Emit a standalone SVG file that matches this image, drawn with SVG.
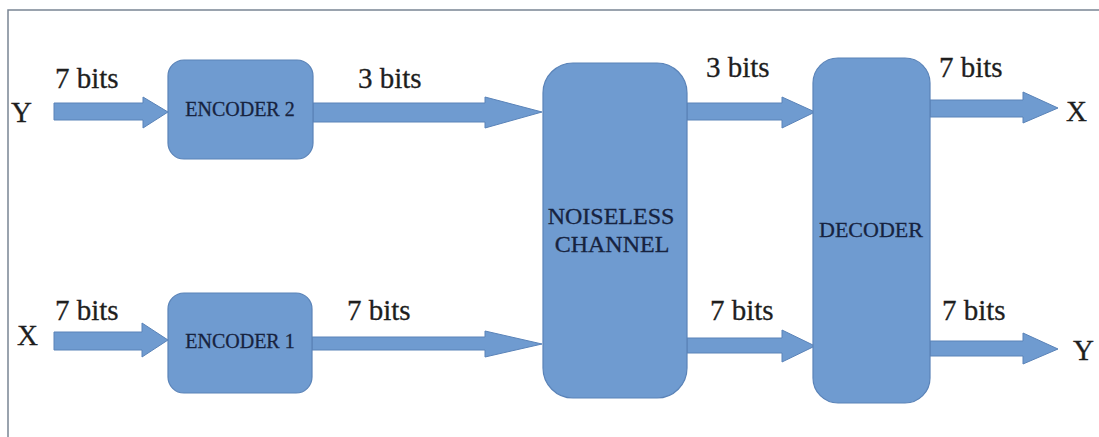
<svg xmlns="http://www.w3.org/2000/svg" width="1099" height="437" viewBox="0 0 1099 437">
  <style>
    .box { fill: #6f9bd0; stroke: #5a83b8; stroke-width: 1.2; }
    .arrow { fill: #6f9bd0; stroke: #5a83b8; stroke-width: 1; stroke-linejoin: miter; }
    .lbl { font-family: "Liberation Serif", "Times New Roman", serif; font-size: 29px; fill: #1e1e1e; stroke: #1e1e1e; stroke-width: 0.3; }
    .node-txt { font-family: "Liberation Serif", "Times New Roman", serif; fill: #17233f; stroke: #17233f; stroke-width: 0.3; text-anchor: middle; }
  </style>

  <rect x="0" y="0" width="1099" height="437" fill="#ffffff"/>
  <!-- frame -->
  <path d="M8,437 V10 H1099" fill="none" stroke="#7a8594" stroke-width="1.5"/>

  <!-- connectors -->
  <g id="connectors">
    <polygon class="arrow" points="54,103 143,103 143,97 168,112 143,128 143,120 54,120"/>
    <polygon class="arrow" points="54,332 142,332 142,323 168,340 142,357 142,350 54,350"/>
    <polygon class="arrow" points="313,103 485,103 485,97 542,112 485,128 485,122 313,122"/>
    <polygon class="arrow" points="312,337 485,337 485,331 542,344 485,357 485,350 312,350"/>
    <polygon class="arrow" points="687,103 782,103 782,97 815,112 782,128 782,120 687,120"/>
    <polygon class="arrow" points="687,338 782,338 782,330 815,346 782,362 782,353 687,353"/>
    <polygon class="arrow" points="930,100 1023,100 1023,92 1058,108 1023,123 1023,117 930,117"/>
    <polygon class="arrow" points="930,341 1023,341 1023,333 1058,349 1023,364 1023,356 930,356"/>
  </g>

  <!-- connector labels and end points -->
  <g id="labels">
    <text class="lbl" x="55" y="88">7 bits</text>
    <text class="lbl" x="358" y="88">3 bits</text>
    <text class="lbl" x="706" y="77">3 bits</text>
    <text class="lbl" x="939" y="77">7 bits</text>
    <text class="lbl" x="55" y="320">7 bits</text>
    <text class="lbl" x="347" y="320">7 bits</text>
    <text class="lbl" x="710" y="320">7 bits</text>
    <text class="lbl" x="942" y="320">7 bits</text>
    <text class="lbl" x="11" y="122">Y</text>
    <text class="lbl" x="17" y="345">X</text>
    <text class="lbl" x="1066" y="121">X</text>
    <text class="lbl" x="1073" y="360">Y</text>
  </g>

  <g id="encoder2">
    <rect class="box" x="168" y="60" width="145" height="99" rx="16" ry="16"/>
    <text class="node-txt" x="240" y="116" font-size="20">ENCODER 2</text>
  </g>

  <g id="encoder1">
    <rect class="box" x="168" y="293" width="144" height="100" rx="16" ry="16"/>
    <text class="node-txt" x="240" y="348" font-size="20">ENCODER 1</text>
  </g>

  <g id="channel">
    <rect class="box" x="543" y="63" width="144" height="335" rx="30" ry="30"/>
    <text class="node-txt" x="611" y="224" font-size="24">NOISELESS</text>
    <text class="node-txt" x="612" y="252" font-size="24">CHANNEL</text>
  </g>

  <g id="decoder">
    <rect class="box" x="813" y="58" width="117" height="345" rx="25" ry="25"/>
    <text class="node-txt" x="871" y="237" font-size="22">DECODER</text>
  </g>
</svg>
